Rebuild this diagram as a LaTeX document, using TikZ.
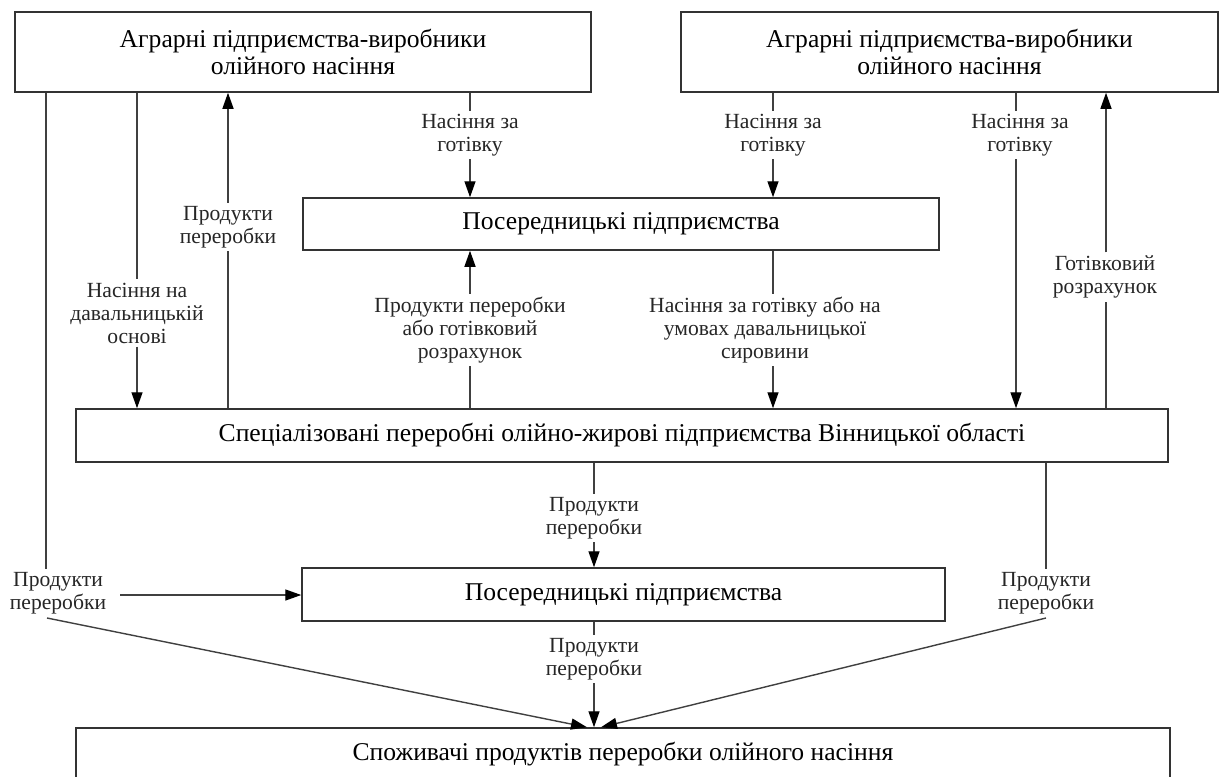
\documentclass[tikz,border=0pt]{standalone}
\usepackage{fontspec}
\setmainfont{Liberation Serif}
\usetikzlibrary{arrows.meta,calc}
\begin{document}
\begin{tikzpicture}[x=0.5pt,y=-0.5pt,
  box/.style={draw=black!80, line width=0.75pt, align=center,
    font=\fontsize{12.8}{13.5}\selectfont, inner sep=0pt},
  lbl/.style={align=center, font=\fontsize{10.8}{11.5}\selectfont,
    inner sep=1.5pt, text=black!85},
  conn/.style={draw=black!75, line width=0.7pt},
  arr/.style={conn, -{Triangle[length=8pt,width=5.5pt,fill=black,color=black]}}]
\useasboundingbox (0,0) rectangle (1220,776);
\clip (0,0) rectangle (1220,776);
\fill[white] (0,0) rectangle (1220,776);

% boxes
\node[box, minimum width=288pt, minimum height=40pt] (tl) at (303,52)
  {Аграрні підприємства-виробники\\олійного насіння};
\node[box, minimum width=268.5pt, minimum height=40pt] (tr) at (949.5,52)
  {Аграрні підприємства-виробники\\олійного насіння};
\node[box, minimum width=318pt, minimum height=26pt] (p1) at (621,224)
  {Посередницькі підприємства};
\node[box, minimum width=546pt, minimum height=26.5pt] (sp) at (622,435.5)
  {Спеціалізовані переробні олійно-жирові підприємства Вінницької області};
\node[box, minimum width=321.5pt, minimum height=26.5pt] (p2) at (623.5,594.5)
  {Посередницькі підприємства};
\node[box, minimum width=547pt, minimum height=26pt] (bt) at (623,754)
  {Споживачі продуктів переробки олійного насіння};

% x positions of connectors
\coordinate (x46) at (46,0);
\coordinate (x137) at (137,0);
\coordinate (x228) at (228,0);
\coordinate (x470) at (470,0);
\coordinate (x773) at (773,0);
\coordinate (x1016) at (1016,0);
\coordinate (x1106) at (1106,0);
\coordinate (x594) at (594,0);
\coordinate (x1046) at (1046,0);

% labels
\node[lbl] (l1) at (137,313) {Насіння на\\давальницькій\\основі};
\node[lbl] (l2) at (228,227) {Продукти\\переробки};
\node[lbl] (l3) at (470,135) {Насіння за\\готівку};
\node[lbl] (l4) at (470,330) {Продукти переробки\\або готівковий\\розрахунок};
\node[lbl] (l5) at (773,135) {Насіння за\\готівку};
\node[lbl] (l6) at (765,330) {Насіння за готівку або на\\умовах давальницької\\сировини};
\node[lbl] (l7) at (1020,135) {Насіння за\\готівку};
\node[lbl] (l8) at (1105,277) {Готівковий\\розрахунок};
\node[lbl] (l9) at (594,518) {Продукти\\переробки};
\node[lbl] (l10) at (58,593) {Продукти\\переробки};
\node[lbl] (l11) at (1046,593) {Продукти\\переробки};
\node[lbl] (l12) at (594,659) {Продукти\\переробки};

% free ends
\coordinate (la) at (120,595);
\coordinate (ld) at (47,618);
\coordinate (rd) at (1046,618);
\coordinate (tipL) at ($(x594 |- bt.north)+(-7,0)$);
\coordinate (tipR) at ($(x594 |- bt.north)+(7,0)$);

% connectors from left producers
\draw[conn] (x46 |- tl.south) -- (x46 |- l10.north);
\draw[arr] (ld) -- (tipL);
\draw[arr] (la) -- (la -| p2.west);
\draw[conn] (x137 |- tl.south) -- (l1.north);
\draw[arr] (l1.south) -- (x137 |- sp.north);
\draw[conn] (x228 |- sp.north) -- (l2.south);
\draw[arr] (l2.north) -- (x228 |- tl.south);
\draw[conn] (x470 |- tl.south) -- (l3.north);
\draw[arr] (l3.south) -- (x470 |- p1.north);
\draw[conn] (x470 |- sp.north) -- (l4.south);
\draw[arr] (l4.north) -- (x470 |- p1.south);

% connectors from right producers
\draw[conn] (x773 |- tr.south) -- (l5.north);
\draw[arr] (l5.south) -- (x773 |- p1.north);
\draw[conn] (x773 |- p1.south) -- (x773 |- l6.north);
\draw[arr] (x773 |- l6.south) -- (x773 |- sp.north);
\draw[conn] (x1016 |- tr.south) -- (x1016 |- l7.north);
\draw[arr] (x1016 |- l7.south) -- (x1016 |- sp.north);
\draw[conn] (x1106 |- sp.north) -- (x1106 |- l8.south);
\draw[arr] (x1106 |- l8.north) -- (x1106 |- tr.south);

% lower part
\draw[conn] (x594 |- sp.south) -- (l9.north);
\draw[arr] (l9.south) -- (x594 |- p2.north);
\draw[conn] (x594 |- p2.south) -- (l12.north);
\draw[arr] (l12.south) -- (x594 |- bt.north);
\draw[conn] (x1046 |- sp.south) -- (l11.north);
\draw[arr] (rd) -- (tipR);
\end{tikzpicture}
\end{document}
